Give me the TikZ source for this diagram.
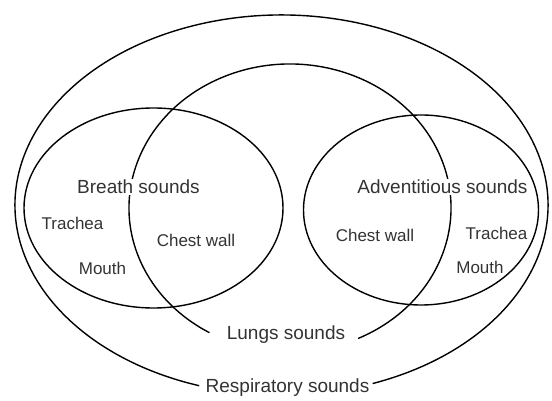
\documentclass[tikz,border=0pt]{standalone}
\usepackage{fontspec}
\setmainfont{Liberation Sans}

\begin{document}
\begin{tikzpicture}[x=1pt, y=1pt, line width=1.4pt,
  group/.style={text=black!80, fill=white, inner sep=1pt, font=\fontsize{19}{22}\selectfont},
  site/.style={text=black!80, inner sep=1pt, font=\fontsize{17}{20}\selectfont}]
\path[use as bounding box] (0,0) rectangle (552,401);
% outer set and lungs set, open at the bottom for their labels
\draw (281.5,196) ++(-70:266.5pt and 190pt) arc[start angle=-70, end angle=252, x radius=266.5pt, y radius=190pt];
\draw (290,193) ++(-65:161pt and 144pt) arc[start angle=-65, end angle=240, x radius=161pt, y radius=144pt];
% breath and adventitious sets
\draw (153.5,193) ellipse[x radius=129.5pt, y radius=100pt];
\draw (421,191) ellipse[x radius=117.5pt, y radius=95pt];

\node[group] (breath) at (138.5,214) {Breath sounds};
\node[site] (tracheaL) at (72.5,178) {Trachea};
\node[site] (chestL) at (196,161) {Chest wall};
\node[site] (mouthL) at (102.5,133) {Mouth};

\node[group] (advent) at (442.5,214) {Adventitious sounds};
\node[site] (chestR) at (375,166) {Chest wall};
\node[site] (tracheaR) at (496.5,168) {Trachea};
\node[site] (mouthR) at (480,134) {Mouth};

\node[group] (lungs) at (286,66) {Lungs sounds};
\node[group] (resp) at (287.5,13) {Respiratory sounds};
\end{tikzpicture}
\end{document}
